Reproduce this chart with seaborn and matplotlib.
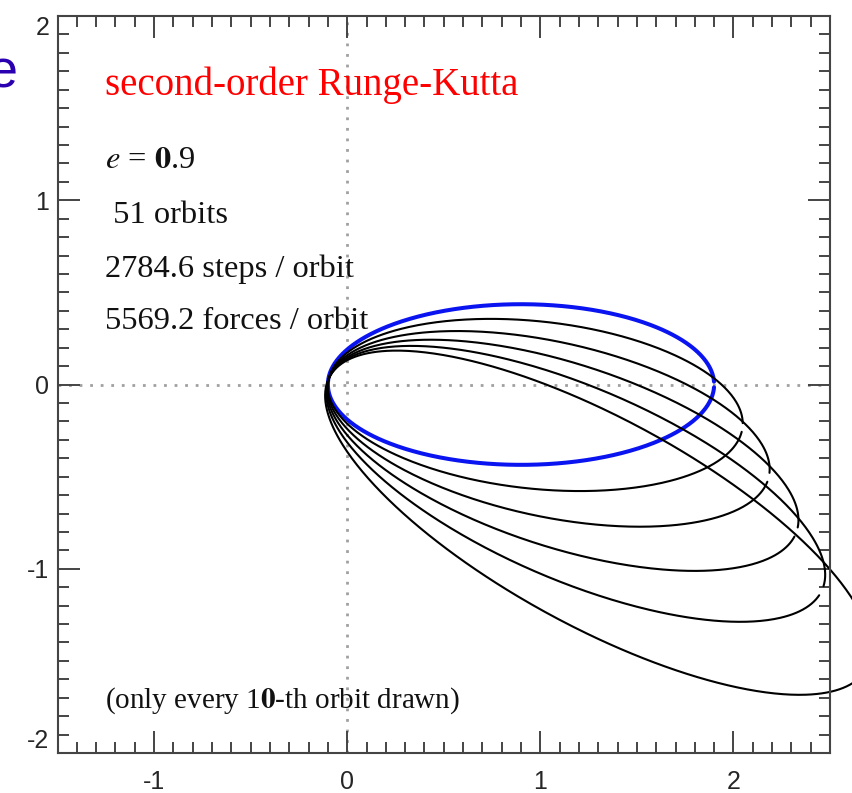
import numpy as np
import pandas as pd
import matplotlib
matplotlib.use("Agg")
import matplotlib.pyplot as plt
import seaborn as sns
from matplotlib.ticker import MultipleLocator

# ---- orbit elements (focus at origin) ----
orbit_names = ["start", "orbit 10", "orbit 20", "orbit 30", "orbit 40", "orbit 50"]
semi_major = [1.00, 1.08, 1.17, 1.28, 1.40, 1.60]
pericentre = [0.10, 0.10, 0.10, 0.10, 0.10, 0.10]
apocentre_angle_deg = [0.0, -6.5, -13.0, -19.0, -24.5, -30.0]
start_gap_deg = [2.0, 3.0, 3.0, 3.0, 3.0, 3.0]

x_ticks = [-1, 0, 1, 2]
y_ticks = [-2, -1, 0, 1, 2]

title_text = "second-order Runge-Kutta"
info_lines = [r"$e$ = $\mathbf{0}$.9", " 51 orbits", "2784.6 steps / orbit", "5569.2 forces / orbit"]
info_baselines = [1.174, 0.875, 0.582, 0.304]
footnote = r"(only every 1$\mathbf{0}$-th orbit drawn)"

# ---- build orbit table from the elements ----
rows = []
for name, a, q, ang, gap in zip(orbit_names, semi_major, pericentre, apocentre_angle_deg, start_gap_deg):
    e = 1.0 - q / a
    b = a * np.sqrt(1.0 - e * e)
    phi = np.deg2rad(ang)
    g = np.deg2rad(gap)
    E = np.linspace(g, 2 * np.pi - g, 600)
    cx, cy = a * e * np.cos(phi), a * e * np.sin(phi)
    x = cx + a * np.cos(E) * np.cos(phi) - b * np.sin(E) * np.sin(phi)
    y = cy + a * np.cos(E) * np.sin(phi) + b * np.sin(E) * np.cos(phi)
    for xi, yi in zip(x, y):
        rows.append((name, xi, yi))
df = pd.DataFrame(rows, columns=["orbit", "x", "y"])

sns.set_style("white")
plt.rcParams["font.family"] = ["Liberation Sans", "DejaVu Sans"]
plt.rcParams["mathtext.fontset"] = "stix"

fig = plt.figure(figsize=(8.52, 7.93), dpi=100)
ax = fig.add_axes([0.0675, 0.0504, 0.9067, 0.9294])

ax.axhline(0, color="#a0a0a0", lw=2.0, dashes=(1, 2.8), zorder=0)
ax.axvline(0, color="#a0a0a0", lw=2.0, dashes=(1, 2.8), zorder=0)

sns.lineplot(data=df[df["orbit"] == orbit_names[0]], x="x", y="y", units="orbit",
             estimator=None, sort=False, color="#0a14f0", linewidth=2.9,
             ax=ax, legend=False, clip_on=False)
sns.lineplot(data=df[df["orbit"] != orbit_names[0]], x="x", y="y", units="orbit",
             estimator=None, sort=False, color="black", linewidth=1.5,
             ax=ax, legend=False, clip_on=False)

ax.set_xlim(-1.5, 2.5)
ax.set_ylim(-2, 2)
ax.set_xlabel("")
ax.set_ylabel("")
ax.set_xticks(x_ticks)
ax.set_yticks(y_ticks)
ax.set_xticklabels([str(v) for v in x_ticks])
ax.set_yticklabels([str(v) for v in y_ticks])
ax.xaxis.set_minor_locator(MultipleLocator(0.1))
ax.yaxis.set_minor_locator(MultipleLocator(0.1))
ax.tick_params(which="both", direction="in", top=True, right=True, bottom=True, left=True,
               color="#444444", width=1.4)
ax.tick_params(which="major", length=15.8)
ax.tick_params(which="minor", length=7.9)
ax.tick_params(axis="x", which="major", pad=12, labelsize=18)
ax.tick_params(axis="y", which="major", pad=6, labelsize=18)
for s in ax.spines.values():
    s.set_color("#444444")
    s.set_linewidth(1.5)
ylabs = ax.get_yticklabels()
ylabs[0].set_va("bottom")
ylabs[-1].set_va("top")

serif = ["Liberation Serif", "DejaVu Serif"]
ax.text(-1.254, 1.571, title_text, color="#ff0000", fontsize=28, family=serif, va="baseline")
for txt, yb in zip(info_lines, info_baselines):
    ax.text(-1.254, yb, txt, color="#111111", fontsize=23.4, family=serif, va="baseline")
ax.text(-1.254, -1.755, footnote, color="#111111", fontsize=21, family=serif, va="baseline")

fig.text(18 / 852, 1 - 74 / 793, "e", color="#2a00b0", fontsize=39, ha="right", va="center",
         family=["Liberation Sans", "DejaVu Sans"])

fig.savefig("out.png", dpi=100)
